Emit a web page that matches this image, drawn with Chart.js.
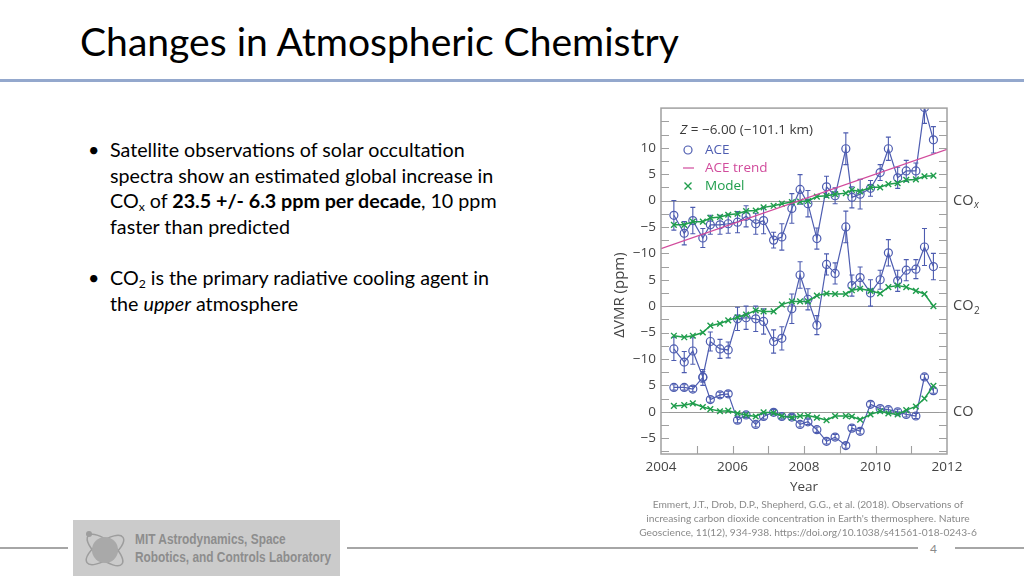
<!DOCTYPE html>
<html>
<head>
<meta charset="utf-8">
<script src="https://cdn.jsdelivr.net/npm/chart.js@4"></script>
<style>
  html, body { margin: 0; padding: 0; background: #fff; }
  body { width: 1024px; height: 576px; position: relative; overflow: hidden; font-family: Lato, 'Open Sans', sans-serif; }
  .title { position: absolute; left: 80px; top: 21px; font-size: 40px; line-height: 1; color: #000; white-space: nowrap; }
  .rule { position: absolute; left: 0; top: 79px; width: 1024px; height: 3px; background: #94a8cd; }
  .para { position: absolute; left: 88px; font-size: 19px; line-height: 25.7px; color: #000; white-space: nowrap; }
  .para .dot { position: absolute; left: 0; top: 0; }
  .para .txt { margin-left: 22px; display: inline-block; }
  sub { font-size: 0.62em; vertical-align: -0.25em; line-height: 0; }
  #wrap { position: absolute; left: 600px; top: 95px; width: 390px; height: 410px; }
  .cite { position: absolute; left: 600px; top: 497px; width: 416px; text-align: center; font-size: 9.6px; line-height: 14px; color: #8a8a8a; white-space: nowrap; }
  .cite span { display: inline-block; }
  .footline { position: absolute; top: 547px; height: 1.5px; background: #a6a6a6; }
  .pagenum { position: absolute; left: 930px; top: 541px; font-size: 12px; color: #8a8a8a; }
  .logo { position: absolute; left: 73px; top: 520px; width: 267px; height: 56px; background: #cbcbcb; }
  .logo .ltxt { position: absolute; left: 62px; top: 11px; font-family: 'Liberation Sans Narrow', 'Liberation Sans', sans-serif; font-weight: bold; font-size: 14.5px; line-height: 17.5px; color: #8d8d8d; white-space: nowrap; transform-origin: 0 0; }
</style>
</head>
<body>
<div class="title" id="title">Changes in Atmospheric Chemistry</div>
<div class="rule"></div>

<div class="para" id="para1" style="top:137px;">
  <span class="dot">•</span>
  <div class="txt" id="p1">Satellite observations of solar occultation<br>spectra show an estimated global increase in<br>CO<sub>x</sub> of <b>23.5 +/- 6.3 ppm per decade</b>, 10 ppm<br>faster than predicted</div>
</div>
<div class="para" id="para2" style="top:265px;">
  <span class="dot">•</span>
  <div class="txt">CO<sub>2</sub> is the primary radiative cooling agent in<br>the <i>upper</i> atmosphere</div>
</div>

<div id="wrap"><canvas id="chart" width="390" height="410"></canvas></div>

<div class="cite"><span id="cite">Emmert, J.T., Drob, D.P., Shepherd, G.G., et al. (2018). Observations of<br>increasing carbon dioxide concentration in Earth's thermosphere. Nature<br>Geoscience, 11(12), 934-938. https://doi.org/10.1038/s41561-018-0243-6</span></div>

<div class="footline" style="left:0;width:68px;"></div>
<div class="footline" style="left:347px;width:571px;"></div>
<div class="footline" style="left:955px;width:69px;"></div>
<div class="pagenum">4</div>
<div class="logo">
  <svg width="60" height="56" style="position:absolute;left:4px;top:0;">
    <ellipse cx="28" cy="30" rx="22" ry="9" fill="none" stroke="#9d9d9d" stroke-width="1.5" transform="rotate(-35 28 30)"/>
    <ellipse cx="28" cy="30" rx="22" ry="9" fill="none" stroke="#9d9d9d" stroke-width="1.5" transform="rotate(40 28 30)"/>
    <circle cx="28" cy="30" r="13" fill="#a9a9a9"/>
    <circle cx="12" cy="14" r="3" fill="#9d9d9d"/>
  </svg>
  <div class="ltxt" id="ltxt">MIT Astrodynamics, Space<br>Robotics, and Controls Laboratory</div>
</div>

<script>
// sample times (decimal year)
const years = [2004.36, 2004.65, 2004.89, 2005.17, 2005.38, 2005.65, 2005.88, 2006.14, 2006.38, 2006.65,
  2006.87, 2007.15, 2007.38, 2007.66, 2007.89, 2008.11, 2008.36, 2008.63, 2008.87, 2009.17,
  2009.34, 2009.57, 2009.86, 2010.13, 2010.36, 2010.62, 2010.86, 2011.13, 2011.37, 2011.62];

// ΔVMR (ppm) at Z = -6.00
const coxAce = [-2.8, -6.2, -3.8, -7.1, -4.6, -4.6, -4.4, -4.1, -3.0, -4.4,
  -3.8, -7.5, -6.9, -1.5, 2.1, -0.6, -7.2, 2.6, 0.9, 9.8,
  0.6, 1.2, 2.3, 5.3, 9.8, 4.3, 5.6, 5.6, 17.6, 11.5];
const coxErr = [2.8, 2.2, 2.5, 1.8, 1.8, 1.8, 1.8, 2.0, 2.0, 2.0,
  2.5, 1.5, 2.5, 2.8, 2.8, 2.5, 2.0, 2.0, 1.5, 3.0,
  2.0, 2.8, 1.5, 1.5, 2.2, 2.0, 2.0, 1.5, 3.0, 2.5];
const coxModel = [-4.6, -4.6, -4.0, -4.0, -3.3, -3.1, -2.7, -2.5, -2.0, -1.9,
  -1.3, -1.0, -0.6, -0.3, -0.2, -0.1, 0.75, 0.9, 1.2, 1.4,
  2.0, 1.7, 2.5, 2.5, 3.1, 3.3, 3.9, 4.0, 4.6, 4.7];

const co2Ace = [-8.1, -10.6, -8.5, -13.4, -6.7, -8.1, -8.3, -2.4, -2.2, -2.4,
  -2.9, -6.7, -6.1, -0.5, 5.9, 1.3, -3.6, 7.9, 6.2, 15.0,
  3.9, 5.4, 2.5, 5.0, 10.1, 4.8, 6.8, 7.0, 11.2, 7.5];
const co2Err = [2.2, 2.0, 2.5, 1.0, 1.8, 1.8, 1.5, 2.2, 2.2, 2.4,
  2.4, 2.2, 2.2, 2.8, 2.5, 2.0, 1.8, 2.0, 2.0, 3.0,
  2.0, 2.0, 2.5, 1.8, 2.5, 2.0, 2.0, 1.8, 3.5, 2.5];
const co2Model = [-5.6, -5.9, -5.6, -5.0, -3.7, -3.3, -2.7, -2.1, -1.6, -0.8,
  -1.0, -1.0, 0.3, 0.9, 0.9, 0.9, 2.0, 2.4, 2.3, 2.3,
  3.0, 3.3, 2.9, 2.4, 3.6, 3.9, 3.6, 2.9, 2.3, 0.0];

const coAce = [4.6, 4.6, 4.3, 6.5, 2.3, 3.2, 3.4, -1.6, -0.6, -2.4,
  -0.9, -0.1, -0.9, -1.0, -2.4, -1.9, -3.4, -5.6, -4.8, -6.4,
  -3.1, -3.7, 1.4, 0.6, 0.4, 0.0, -0.5, -0.8, 6.6, 4.0];
const coErr = [0.5, 0.5, 0.5, 1.5, 0.5, 0.5, 0.5, 0.5, 0.5, 0.5,
  0.5, 0.5, 0.5, 0.5, 0.5, 0.5, 0.5, 0.5, 0.5, 0.5,
  0.5, 0.5, 0.5, 0.5, 0.5, 0.5, 0.5, 0.5, 0.5, 0.5];
const coModel = [1.1, 1.25, 1.6, 0.9, 0.5, 0.1, 0.2, -0.3, -0.6, -0.9,
  -0.1, -0.2, -0.8, -1.1, -0.8, -0.7, -1.1, -1.6, -0.8, -0.8,
  -0.9, -1.5, -0.5, 0.1, -0.3, -0.5, 0.3, 1.0, 2.5, 4.9];

// ACE trend (COx), end points
const trendYears = [2004, 2012];
const trendValues = [-9.1, 9.7];

// the three panels are stacked on one axis, 20 ppm apart
const panelNames = ['CO', 'CO', 'CO'];
const panelSubs = ['x', '2', ''];
const panelOffsets = [0, -20, -40];
const yTicks = [10, 5, 0, -5, -10, -15, -20, -25, -30, -35, -40, -45];
const xTicks = [2004, 2006, 2008, 2010, 2012];

const BLUE = '#4d5cb0';
const GREEN = '#1f9d4c';
const PINK = '#d14b9c';
const TXT = '#444';
const FRAME = '#a0a0a0';

const aceSets = [coxAce, co2Ace, coAce];
const errSets = [coxErr, co2Err, coErr];
const modelSets = [coxModel, co2Model, coModel];

function shiftLabel(v) {
  let p = v > -12.5 ? 0 : (v > -32.5 ? 1 : 2);
  const n = v - panelOffsets[p];
  return n < 0 ? '\u2212' + Math.abs(n) : String(n);
}

const datasets = [];
datasets.push({
  label: 'ACE trend',
  data: trendYears.map((x, i) => ({ x: x, y: trendValues[i] })),
  borderColor: PINK, borderWidth: 1.3, pointRadius: 0, fill: false, tension: 0
});
for (let p = 0; p < 3; p++) {
  datasets.push({
    label: 'Model',
    data: years.map((x, i) => ({ x: x, y: modelSets[p][i] + panelOffsets[p] })),
    borderColor: GREEN, borderWidth: 1.5, fill: false, tension: 0,
    pointStyle: 'crossRot', pointRadius: 4, pointBorderWidth: 1.4, pointBorderColor: GREEN
  });
  datasets.push({
    label: 'ACE',
    data: years.map((x, i) => ({ x: x, y: aceSets[p][i] + panelOffsets[p] })),
    errors: errSets[p],
    borderColor: BLUE, borderWidth: 1.2, fill: false, tension: 0,
    pointStyle: 'circle', pointRadius: 4, pointBorderWidth: 1.2,
    pointBorderColor: BLUE, pointBackgroundColor: 'rgba(255,255,255,0)'
  });
}

const decor = {
  id: 'decor',
  beforeDatasetsDraw(chart) {
    const { ctx, chartArea: a, scales } = chart;
    const y = scales.y;
    ctx.save();
    // zero lines
    ctx.strokeStyle = '#9a9a9a';
    ctx.lineWidth = 1.2;
    panelOffsets.forEach(o => {
      const py = Math.round(y.getPixelForValue(o)) + 0.5;
      ctx.beginPath(); ctx.moveTo(a.left, py); ctx.lineTo(a.right, py); ctx.stroke();
    });
    // error bars
    ctx.beginPath(); ctx.rect(a.left, a.top, a.right - a.left, a.bottom - a.top); ctx.clip();
    ctx.strokeStyle = BLUE;
    ctx.lineWidth = 1.1;
    chart.data.datasets.forEach(ds => {
      if (!ds.errors) return;
      ds.data.forEach((pt, i) => {
        const px = scales.x.getPixelForValue(pt.x);
        const y1 = y.getPixelForValue(pt.y + ds.errors[i]);
        const y2 = y.getPixelForValue(pt.y - ds.errors[i]);
        ctx.beginPath();
        ctx.moveTo(px, y1); ctx.lineTo(px, y2);
        ctx.moveTo(px - 2.5, y1); ctx.lineTo(px + 2.5, y1);
        ctx.moveTo(px - 2.5, y2); ctx.lineTo(px + 2.5, y2);
        ctx.stroke();
      });
    });
    ctx.restore();
  },
  afterDraw(chart) {
    const { ctx, chartArea: a, scales } = chart;
    const y = scales.y, x = scales.x;
    ctx.save();
    // frame
    ctx.strokeStyle = FRAME;
    ctx.lineWidth = 1.5;
    ctx.strokeRect(a.left, a.top, a.right - a.left, a.bottom - a.top);
    // inward ticks
    ctx.lineWidth = 1.1;
    ctx.beginPath();
    for (let v = 15; v >= -47.5; v -= 2.5) {
      const py = Math.round(y.getPixelForValue(v)) + 0.5;
      ctx.moveTo(a.left, py); ctx.lineTo(a.left + 8, py);
      ctx.moveTo(a.right, py); ctx.lineTo(a.right - 8, py);
    }
    for (let yr = 2005; yr <= 2011; yr++) {
      const px = Math.round(x.getPixelForValue(yr)) + 0.5;
      ctx.moveTo(px, a.bottom); ctx.lineTo(px, a.bottom - 8);
    }
    ctx.stroke();

    // legend (canvas coords; canvas top is at page y 95)
    ctx.textBaseline = 'middle';
    ctx.textAlign = 'left';
    const lx = a.left + 19;
    ctx.fillStyle = '#3a3a3a';
    ctx.font = 'italic 13.5px "Open Sans"';
    ctx.fillText('Z', lx, 35);
    const zw = ctx.measureText('Z').width;
    ctx.font = '13.5px "Open Sans"';
    ctx.fillText(' = \u22126.00 (\u2212101.1 km)', lx + zw, 35);
    ctx.fillStyle = BLUE; ctx.fillText('ACE', a.left + 44, 55);
    ctx.fillStyle = PINK; ctx.fillText('ACE trend', a.left + 44, 73);
    ctx.fillStyle = GREEN; ctx.fillText('Model', a.left + 44, 91);
    ctx.lineWidth = 1.2;
    ctx.strokeStyle = BLUE;
    ctx.beginPath(); ctx.arc(a.left + 27, 55, 4, 0, Math.PI * 2); ctx.stroke();
    ctx.strokeStyle = PINK;
    ctx.beginPath(); ctx.moveTo(a.left + 22, 73); ctx.lineTo(a.left + 33, 73); ctx.stroke();
    ctx.strokeStyle = GREEN; ctx.lineWidth = 1.4;
    ctx.beginPath();
    ctx.moveTo(a.left + 23.5, 87.5); ctx.lineTo(a.left + 30.5, 94.5);
    ctx.moveTo(a.left + 30.5, 87.5); ctx.lineTo(a.left + 23.5, 94.5);
    ctx.stroke();

    // panel names on the right
    ctx.fillStyle = TXT;
    panelOffsets.forEach((o, p) => {
      const py = y.getPixelForValue(o);
      ctx.font = '14.5px "Open Sans"';
      ctx.fillText(panelNames[p], a.right + 6, py);
      const w = ctx.measureText(panelNames[p]).width;
      if (panelSubs[p]) {
        ctx.font = (panelSubs[p] === 'x' ? 'italic ' : '') + '10px "Open Sans"';
        ctx.fillText(panelSubs[p], a.right + 6 + w + 0.5, py + 5);
      }
    });

    // y title
    ctx.translate(20, 200);
    ctx.rotate(-Math.PI / 2);
    ctx.textAlign = 'center';
    ctx.font = '15px "Open Sans"';
    ctx.fillText('\u0394VMR (ppm)', 0, 0);
    ctx.restore();
  }
};

const config = {
  type: 'line',
  data: { datasets: datasets },
  options: {
    responsive: false,
    animation: false,
    layout: { padding: { top: 11, right: 43, left: 0, bottom: 0 } },
    plugins: { legend: { display: false }, tooltip: { enabled: false } },
    scales: {
      x: {
        type: 'linear', min: 2004, max: 2012,
        grid: { display: false, drawTicks: false }, border: { display: false },
        afterBuildTicks: s => { s.ticks = xTicks.map(v => ({ value: v })); },
        afterFit: s => { s.height = 51; },
        ticks: { color: TXT, padding: 5, font: { family: 'Open Sans', size: 13.5 }, maxRotation: 0, callback: v => String(v) },
        title: { display: true, text: 'Year', color: TXT, font: { family: 'Open Sans', size: 13.5 }, padding: { top: 0, bottom: 10 } }
      },
      y: {
        type: 'linear', min: -48, max: 17.5,
        grid: { display: false, drawTicks: false }, border: { display: false },
        afterBuildTicks: s => { s.ticks = yTicks.map(v => ({ value: v })); },
        afterFit: s => { s.width = 61; },
        ticks: { color: TXT, padding: 5, font: { family: 'Open Sans', size: 13.5 }, callback: v => shiftLabel(v) }
      }
    }
  },
  plugins: [decor]
};

var ctx = document.getElementById('chart').getContext('2d');
var myChart = new Chart(ctx, config);

// size slide text to the reference widths
function fit(el, target) {
  const w = el.getBoundingClientRect().width;
  const fs = parseFloat(getComputedStyle(el).fontSize);
  const size = fs * target / w;
  el.style.fontSize = size + 'px';
  return size;
}
fit(document.getElementById('title'), 599);
const pSize = fit(document.getElementById('p1'), 387);
document.getElementById('para1').style.fontSize = pSize + 'px';
document.getElementById('para2').style.fontSize = pSize + 'px';
document.getElementById('p1').style.fontSize = '';
fit(document.getElementById('cite'), 338);
// logo text is a condensed face: squeeze horizontally instead
const lt = document.getElementById('ltxt');
lt.style.transform = 'scaleX(' + (196 / lt.getBoundingClientRect().width) + ')';
</script>
</body>
</html>
